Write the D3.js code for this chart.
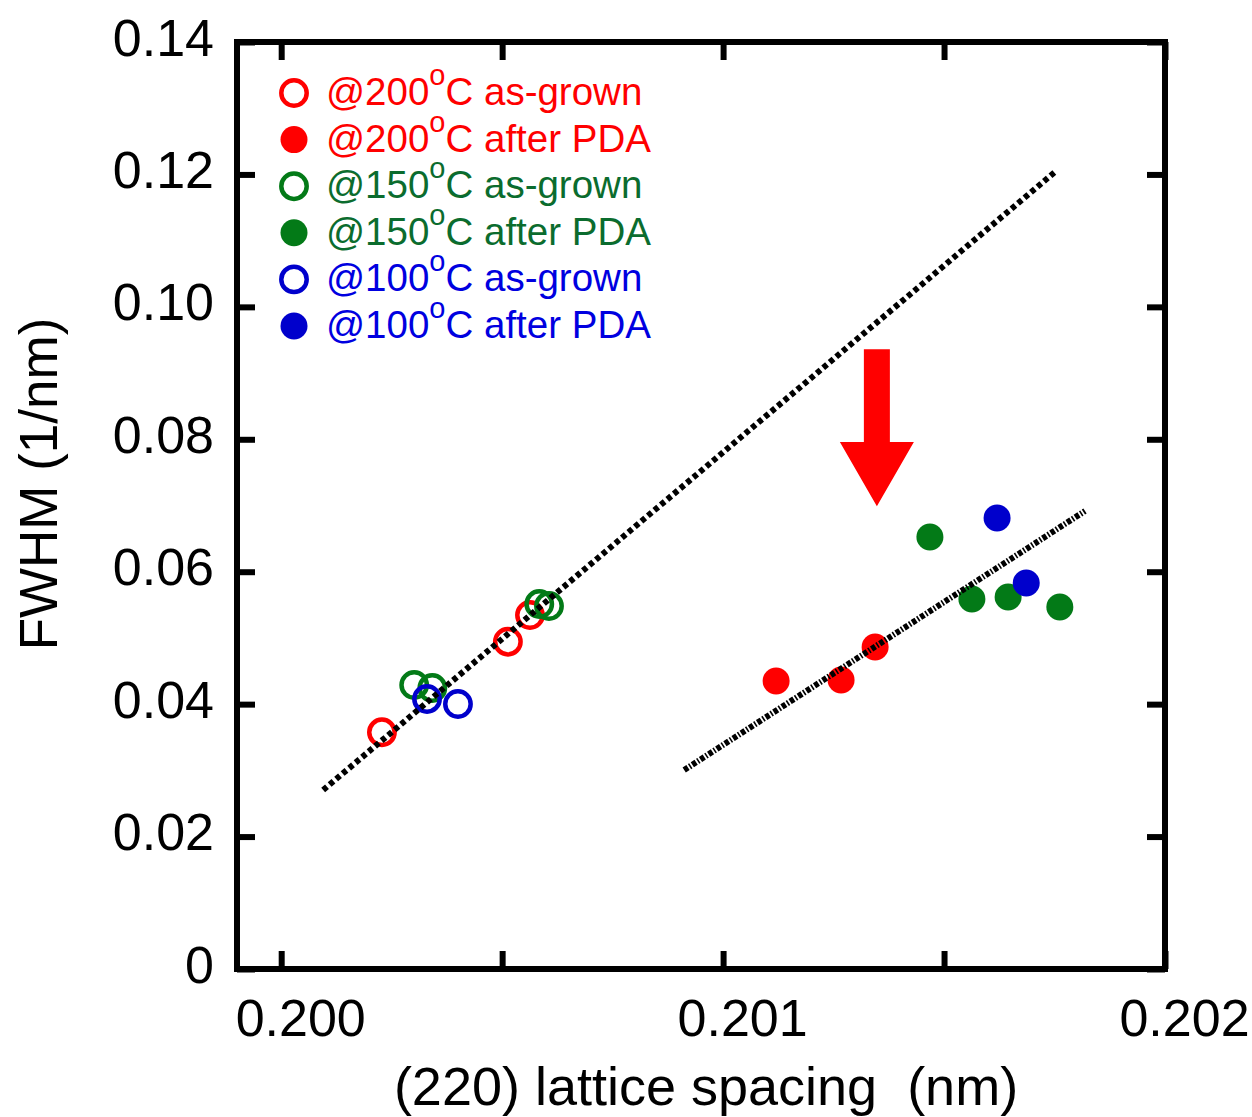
<!DOCTYPE html>
<html>
<head>
<meta charset="utf-8">
<script src="https://cdn.jsdelivr.net/npm/d3@7"></script>
<style>
  body { margin: 0; background: #fff; }
  text { font-family: "Liberation Sans", Arial, Helvetica, sans-serif; }
</style>
</head>
<body>
<svg id="chart" width="1252" height="1117"></svg>
<script>
// (220) lattice spacing (nm) vs. FWHM (1/nm)
const asGrown200 = [[0.200228, 0.03575], [0.200513, 0.04943], [0.200563, 0.05346]];
const asGrown150 = [[0.200301, 0.04289], [0.200342, 0.04244], [0.200584, 0.05512], [0.200606, 0.05482]];
const asGrown100 = [[0.200330, 0.04078], [0.200400, 0.04002]];
const pda200 = [[0.201120, 0.04350], [0.201267, 0.04365], [0.201344, 0.04863]];
const pda150 = [[0.201468, 0.06524], [0.201563, 0.05588], [0.201645, 0.05618], [0.201762, 0.05467]];
const pda100 = [[0.201620, 0.06811], [0.201686, 0.05829]];

// guide lines (end points)
const fitAsGrown = [[0.200095, 0.02703], [0.201751, 0.12037]];
const fitPDA = [[0.200912, 0.03005], [0.201819, 0.06917]];

// downward arrow: x position, top of shaft, base of head, tip
const arrowX = 0.201348;
const arrowYs = [0.0936, 0.0796, 0.0699];

const xTicks = [0.200, 0.2005, 0.201, 0.2015, 0.202];
const xTickLabels = {"0.2": "0.200", "0.201": "0.201", "0.202": "0.202"};
const yTicks = [0, 0.02, 0.04, 0.06, 0.08, 0.10, 0.12, 0.14];
const yTickLabels = ["0", "0.02", "0.04", "0.06", "0.08", "0.10", "0.12", "0.14"];

const temps = ["200", "200", "150", "150", "100", "100"];
const states = ["as-grown", "after PDA", "as-grown", "after PDA", "as-grown", "after PDA"];

const RED = "#ff0000", GREEN = "#037a17", BLUE = "#0000cc";
const GREEN_TXT = "#0b6c2e", BLUE_TXT = "#0000e0";

const series = [
  {data: asGrown200, color: RED, text: RED, filled: false},
  {data: pda200, color: RED, text: RED, filled: true},
  {data: asGrown150, color: GREEN, text: GREEN_TXT, filled: false},
  {data: pda150, color: GREEN, text: GREEN_TXT, filled: true},
  {data: asGrown100, color: BLUE, text: BLUE_TXT, filled: false},
  {data: pda100, color: BLUE, text: BLUE_TXT, filled: true}
];

const svg = d3.select("#chart");
const plotL = 237, plotR = 1165, plotT = 42, plotB = 969;

const x = d3.scaleLinear().domain([0.1999, 0.202]).range([plotL, plotR]);
const y = d3.scaleLinear().domain([0, 0.14]).range([plotB, plotT]);

const TICK = 18, AXW = 6;

// axes
const gB = svg.append("g").attr("transform", `translate(0,${plotB})`)
  .call(d3.axisBottom(x).tickValues(xTicks).tickSizeInner(-TICK).tickSizeOuter(0)
    .tickFormat(d => xTickLabels[String(+d.toFixed(4))] || ""));
const gT = svg.append("g").attr("transform", `translate(0,${plotT})`)
  .call(d3.axisTop(x).tickValues(xTicks).tickSizeInner(-TICK).tickSizeOuter(0).tickFormat(""));
const gL = svg.append("g").attr("transform", `translate(${plotL},0)`)
  .call(d3.axisLeft(y).tickValues(yTicks).tickSizeInner(-TICK).tickSizeOuter(0)
    .tickFormat((d, i) => yTickLabels[i]));
const gR = svg.append("g").attr("transform", `translate(${plotR},0)`)
  .call(d3.axisRight(y).tickValues(yTicks).tickSizeInner(-TICK).tickSizeOuter(0).tickFormat(""));

[gB, gT, gL, gR].forEach(g => {
  g.select(".domain").remove();
  g.selectAll(".tick line").attr("stroke", "#000").attr("stroke-width", AXW);
});
gB.selectAll(".tick text").attr("y", 67).attr("dy", null).attr("dx", 19)
  .attr("font-size", 52).attr("fill", "#000");
gL.selectAll(".tick text").attr("x", -23).attr("dy", null).attr("y", 13)
  .attr("font-size", 52).attr("fill", "#000");

svg.append("rect")
  .attr("x", plotL).attr("y", plotT)
  .attr("width", plotR - plotL).attr("height", plotB - plotT)
  .attr("fill", "none").attr("stroke", "#000").attr("stroke-width", AXW);

// axis titles
svg.append("text")
  .attr("x", 706).attr("y", 1105)
  .attr("text-anchor", "middle").attr("font-size", 54)
  .style("white-space", "pre")
  .text("(220) lattice spacing  (nm)");
svg.append("text")
  .attr("transform", "translate(57,484) rotate(-90)")
  .attr("text-anchor", "middle").attr("font-size", 53)
  .text("FWHM (1/nm)");

// data points
const R_OPEN = 12.7, R_FILL = 13.5, SW = 4.5;
series.forEach(s => {
  svg.append("g").selectAll("circle").data(s.data).join("circle")
    .attr("cx", d => x(d[0])).attr("cy", d => y(d[1]))
    .attr("r", s.filled ? R_FILL : R_OPEN)
    .attr("fill", s.filled ? s.color : "none")
    .attr("stroke", s.filled ? "none" : s.color)
    .attr("stroke-width", SW);
});

// guide lines
const line = d3.line().x(d => x(d[0])).y(d => y(d[1]));
svg.append("path").datum(fitAsGrown).attr("d", line)
  .attr("fill", "none").attr("stroke", "#000").attr("stroke-width", 6)
  .attr("stroke-dasharray", "5,3.5");
svg.append("path").datum(fitPDA).attr("d", line)
  .attr("fill", "none").attr("stroke", "#000").attr("stroke-width", 6)
  .attr("stroke-dasharray", "4.5,1.8,1.6,1.8");

// arrow
const ax = x(arrowX), shaftHalf = 13, headHalf = 37;
const [yTop, yHead, yTip] = arrowYs.map(y);
svg.append("path")
  .attr("d", `M${ax - shaftHalf},${yTop} L${ax + shaftHalf},${yTop} L${ax + shaftHalf},${yHead}
    L${ax + headHalf},${yHead} L${ax},${yTip} L${ax - headHalf},${yHead}
    L${ax - shaftHalf},${yHead} Z`)
  .attr("fill", RED);

// legend
const lg = svg.append("g");
series.forEach((s, i) => {
  const cy = 93 + i * 46.6;
  lg.append("circle")
    .attr("cx", 294).attr("cy", cy)
    .attr("r", s.filled ? R_FILL : R_OPEN)
    .attr("fill", s.filled ? s.color : "none")
    .attr("stroke", s.filled ? "none" : s.color)
    .attr("stroke-width", SW);
  const t = lg.append("text").attr("x", 326).attr("y", cy + 12)
    .attr("font-size", 38.5).attr("fill", s.text);
  t.append("tspan").text("@" + temps[i]);
  t.append("tspan").attr("dy", -20).attr("font-size", 29).text("o");
  t.append("tspan").attr("dy", 20).text("C " + states[i]);
});
</script>
</body>
</html>
